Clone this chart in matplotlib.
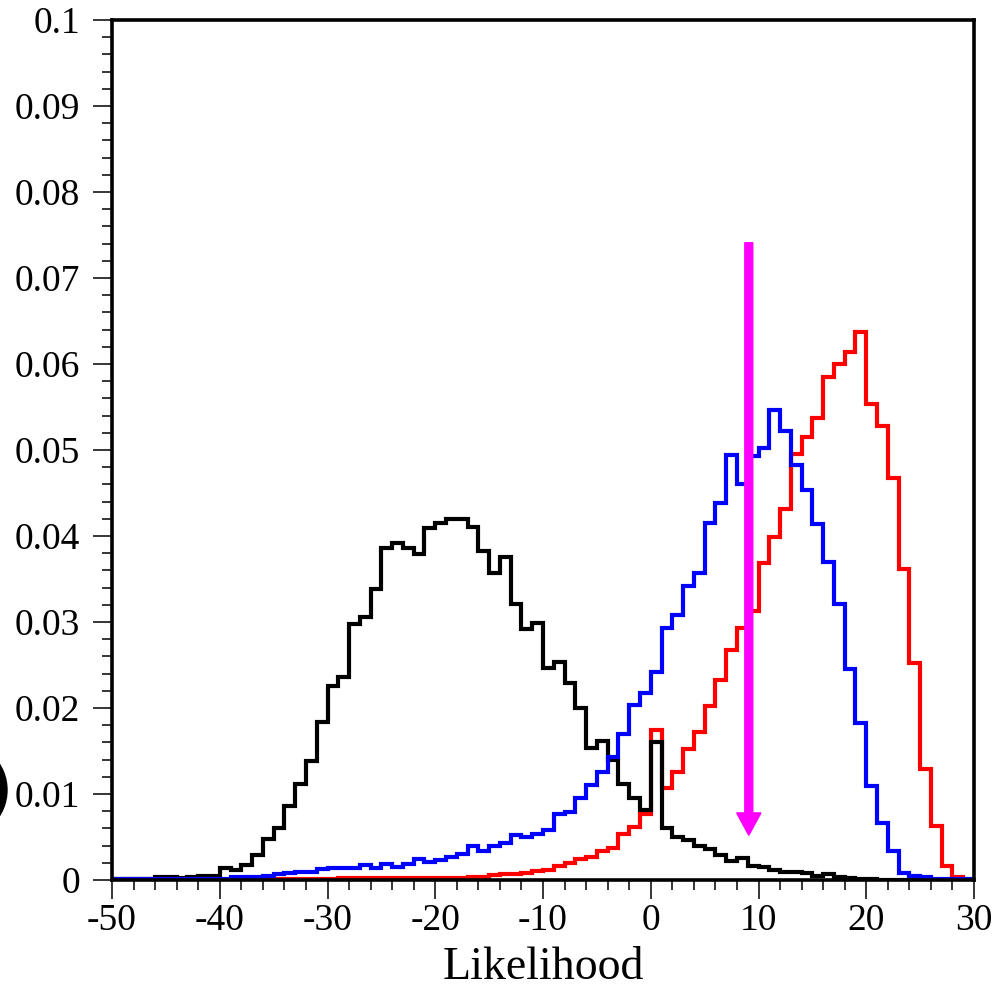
import numpy as np
import matplotlib
matplotlib.use("Agg")
import matplotlib.pyplot as plt
from matplotlib.patches import Ellipse
from matplotlib.ticker import MultipleLocator, FormatStrFormatter

plt.rcParams["font.family"] = ["Liberation Serif", "DejaVu Serif"]
plt.rcParams["axes.unicode_minus"] = False

# bin edges: unit bins from -50 to 30
bin_edges = np.arange(-50, 31)

black_vals = [
    0.0001, 0.0001, 0.0001, 0.0001, 0.0003, 0.0003, 0.0002, 0.0003, 0.0005, 0.0005,
    0.0014, 0.0012, 0.0017, 0.0029, 0.0048, 0.0060, 0.0086, 0.0112, 0.0138, 0.0184,
    0.0226, 0.0236, 0.0298, 0.0306, 0.0338, 0.0386, 0.0392, 0.0386, 0.0379, 0.0409,
    0.0415, 0.0420, 0.0420, 0.0411, 0.0382, 0.0357, 0.0376, 0.0321, 0.0292, 0.0299,
    0.0246, 0.0254, 0.0229, 0.0200, 0.0154, 0.0162, 0.0140, 0.0112, 0.0095, 0.0081,
    0.0161, 0.0060, 0.0050, 0.0046, 0.0039, 0.0036, 0.0029, 0.0022, 0.0026, 0.0016,
    0.0015, 0.0012, 0.0009, 0.0009, 0.0008, 0.0005, 0.0007, 0.0003, 0.0002, 0.0001,
    0.0001, 0.0, 0.0, 0.0, 0.0, 0.0, 0.0, 0.0, 0.0, 0.0,
]

blue_vals = [
    0.0001, 0.0001, 0.0001, 0.0001, 0.0001, 0.0001, 0.0001, 0.0001, 0.0001, 0.0001,
    0.0001, 0.0003, 0.0003, 0.0003, 0.0005, 0.0007, 0.0008, 0.0009, 0.0009, 0.0013,
    0.0014, 0.0014, 0.0014, 0.0017, 0.0014, 0.0019, 0.0015, 0.0019, 0.0025, 0.0021,
    0.0023, 0.0027, 0.0030, 0.0040, 0.0034, 0.0039, 0.0043, 0.0052, 0.0050, 0.0054,
    0.0058, 0.0077, 0.0079, 0.0095, 0.0110, 0.0126, 0.0143, 0.0170, 0.0203, 0.0218,
    0.0242, 0.0293, 0.0308, 0.0342, 0.0357, 0.0415, 0.0438, 0.0494, 0.0460, 0.0493,
    0.0502, 0.0546, 0.0522, 0.0483, 0.0454, 0.0414, 0.0370, 0.0321, 0.0245, 0.0183,
    0.0109, 0.0066, 0.0034, 0.0008, 0.0005, 0.0003, 0.0001, 0.0001, 0.0001, 0.0001,
]

red_vals = [
    0.0, 0.0, 0.0, 0.0, 0.0, 0.0, 0.0, 0.0, 0.0, 0.0,
    0.0, 0.0, 0.0001, 0.0001, 0.0001, 0.0001, 0.0001, 0.0001, 0.0001, 0.0001,
    0.0001, 0.0002, 0.0002, 0.0002, 0.0002, 0.0002, 0.0002, 0.0002, 0.0002, 0.0002,
    0.0002, 0.0002, 0.0002, 0.0003, 0.0004, 0.0006, 0.0007, 0.0007, 0.0008, 0.0010,
    0.0012, 0.0016, 0.0020, 0.0025, 0.0027, 0.0034, 0.0037, 0.0053, 0.0062, 0.0077,
    0.0175, 0.0107, 0.0126, 0.0152, 0.0172, 0.0202, 0.0233, 0.0267, 0.0293, 0.0313,
    0.0369, 0.0399, 0.0431, 0.0495, 0.0515, 0.0537, 0.0585, 0.0600, 0.0614, 0.0637,
    0.0554, 0.0528, 0.0467, 0.0362, 0.0252, 0.0129, 0.0063, 0.0016, 0.0004, 0.0,
]

# magenta arrow marking the cut
arrow_x = 9.1
arrow_top = 0.0741
arrow_tip = 0.0052

fig = plt.figure(figsize=(10.05, 9.91), dpi=100)
ax = fig.add_axes([112 / 1005, 111 / 991, 862 / 1005, 860 / 991])

lw = 3.0
ax.stairs(red_vals, bin_edges, color="#ff0000", lw=lw)
ax.stairs(black_vals, bin_edges, color="black", lw=lw)
ax.stairs(blue_vals, bin_edges, color="#0000ff", lw=lw)

ax.arrow(arrow_x, arrow_top, 0, arrow_tip - arrow_top, width=0.74,
         head_width=2.25, head_length=0.0026, length_includes_head=True,
         color="#ff00ff", zorder=5)

ax.set_xlim(-50, 30)
ax.set_ylim(0, 0.1)
ax.xaxis.set_major_locator(MultipleLocator(10))
ax.xaxis.set_minor_locator(MultipleLocator(2))
ax.yaxis.set_major_locator(MultipleLocator(0.01))
ax.yaxis.set_minor_locator(MultipleLocator(0.002))
ax.yaxis.set_major_formatter(FormatStrFormatter("%g"))

ax.tick_params(which="major", direction="out", length=14, width=1.1, labelsize=27)
ax.tick_params(which="minor", direction="out", length=7, width=1.1)
ax.tick_params(axis="x", which="major", pad=3)
ax.tick_params(axis="y", which="major", pad=9)
for s in ax.spines.values():
    s.set_linewidth(2.6)

ax.set_xlabel("Likelihood", fontsize=33, labelpad=6)

# cut-off dark disc at the left edge of the original figure
fig.patches.append(Ellipse((-41 / 1005, 201 / 991), 96 / 1005, 96 / 991,
                           transform=fig.transFigure, color="black"))

fig.savefig("out.png", dpi=100)
